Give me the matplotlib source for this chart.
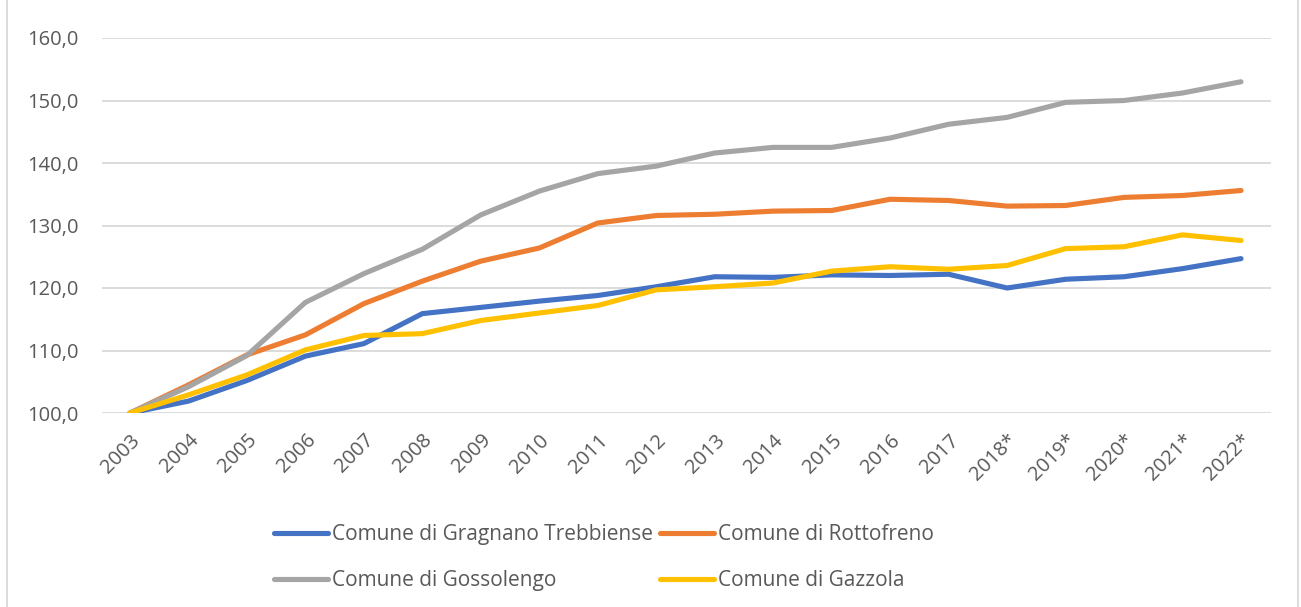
import matplotlib
matplotlib.use("Agg")
import matplotlib.pyplot as plt
from matplotlib.lines import Line2D

years = ["2003", "2004", "2005", "2006", "2007", "2008", "2009", "2010", "2011", "2012",
         "2013", "2014", "2015", "2016", "2017", "2018*", "2019*", "2020*", "2021*", "2022*"]

gragnano = [100.0, 101.9, 105.2, 109.1, 111.1, 115.9, 116.9, 117.9, 118.8, 120.2,
            121.8, 121.7, 122.1, 122.0, 122.2, 120.0, 121.4, 121.8, 123.1, 124.7]
rottofreno = [100.0, 104.5, 109.3, 112.5, 117.5, 121.1, 124.3, 126.4, 130.4, 131.6,
              131.8, 132.3, 132.4, 134.2, 134.0, 133.1, 133.2, 134.5, 134.8, 135.6]
gossolengo = [100.0, 104.2, 109.2, 117.7, 122.3, 126.2, 131.7, 135.5, 138.3, 139.5,
              141.6, 142.5, 142.5, 144.0, 146.2, 147.3, 149.7, 150.0, 151.2, 153.0]
gazzola = [100.0, 102.9, 106.1, 110.1, 112.4, 112.7, 114.8, 116.0, 117.2, 119.7,
           120.2, 120.8, 122.7, 123.4, 123.0, 123.6, 126.3, 126.6, 128.5, 127.6]

series_names = ["Comune di Gragnano Trebbiense", "Comune di Rottofreno",
                "Comune di Gossolengo", "Comune di Gazzola"]
series_values = [gragnano, rottofreno, gossolengo, gazzola]
colors = ["#4472C4", "#ED7D31", "#A5A5A5", "#FFC000"]
yticks = [100, 110, 120, 130, 140, 150, 160]

plt.rcParams['font.family'] = ['Open Sans', 'DejaVu Sans']
text_color = "#595959"

W, H = 1301, 607
fig = plt.figure(figsize=(W / 100, H / 100), dpi=100)
ax = fig.add_axes([102 / W, 1 - 413 / H, (1271 - 102) / W, (413 - 38) / H])

x = list(range(len(years)))
for vals, c, name in zip(series_values, colors, series_names):
    ax.plot(x, vals, color=c, lw=3.7, solid_capstyle='round', solid_joinstyle='round', label=name)

ax.set_ylim(100, 160)
step = (1241 - 130) / 19
left_pad = (130 - 102) / step
ax.set_xlim(-left_pad, (1271 - 102) / step - left_pad)
ax.set_yticks(yticks)
ax.set_yticklabels([f"{v:.1f}".replace(".", ",") for v in yticks])
ax.set_xticks(x)
ax.set_xticklabels(years, rotation=45, ha='right', va='top', rotation_mode='anchor')
ax.tick_params(axis='both', length=0, colors=text_color, labelsize=14.5)
ax.tick_params(axis='x', pad=12.5)
ax.tick_params(axis='y', pad=17)
ax.grid(axis='y', color='#D9D9D9', lw=1.3)
ax.set_axisbelow(True)
for s in ax.spines.values():
    s.set_visible(False)

# legend (row-major order: reorder for matplotlib's column-major fill)
order = [0, 2, 1, 3]
handles = [Line2D([], [], color=colors[i], lw=3.7, solid_capstyle='round') for i in order]
labels = [series_names[i] for i in order]
leg = fig.legend(handles, labels, loc='upper left', bbox_to_anchor=(274 / W, 1 - 524 / H),
                 ncol=2, frameon=False, fontsize=15.0, handlelength=2.6, handletextpad=0.2,
                 columnspacing=0.3, labelspacing=1.22, labelcolor=text_color,
                 borderaxespad=0, borderpad=0)

# chart border
fig.add_artist(Line2D([7 / W, 7 / W], [0, 1], color='#D9D9D9', lw=1.3))
fig.add_artist(Line2D([1298 / W, 1298 / W], [0, 1], color='#D9D9D9', lw=1.3))

fig.savefig("out.png", dpi=100)
